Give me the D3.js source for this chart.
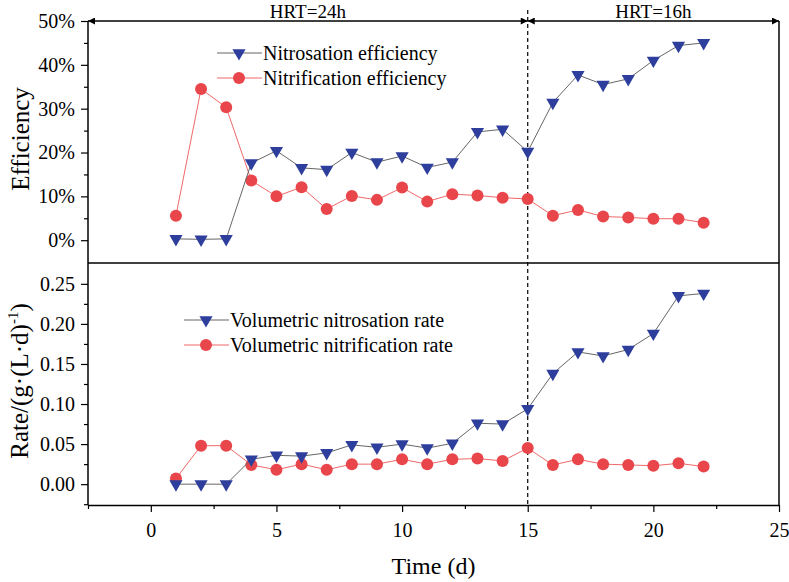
<!DOCTYPE html>
<html>
<head>
<meta charset="utf-8">
<script src="https://cdn.jsdelivr.net/npm/d3@7"></script>
<style>
  body { margin: 0; background: #fff; }
  svg text { font-family: "Liberation Serif", "Times New Roman", serif !important; fill: #000; }
</style>
</head>
<body>
<svg id="chart" width="789" height="582"></svg>
<script>
const days = [1,2,3,4,5,6,7,8,9,10,11,12,13,14,15,16,17,18,19,20,21,22];
const nitrosationEff = [0.3,0.2,0.3,17.6,20.4,16.5,16.1,20.0,17.8,19.2,16.6,17.8,24.7,25.3,20.2,31.4,37.7,35.5,36.8,41.0,44.4,45.0];
const nitrificationEff = [5.6,34.5,30.3,13.6,10.0,12.1,7.1,10.1,9.2,12.0,8.8,10.5,10.2,9.7,9.4,5.6,6.9,5.4,5.2,4.9,4.9,4.0];
const nitrosationRate = [0.0,0.0,0.0,0.031,0.036,0.035,0.039,0.049,0.046,0.050,0.045,0.051,0.076,0.075,0.094,0.138,0.165,0.160,0.168,0.188,0.235,0.238];
const nitrificationRate = [0.007,0.048,0.048,0.024,0.018,0.025,0.018,0.025,0.025,0.031,0.025,0.031,0.032,0.029,0.045,0.024,0.031,0.025,0.024,0.023,0.026,0.022];
const xTicks = [0,5,10,15,20,25];
const effTicks = [0,10,20,30,40,50];
const rateTicks = [0,0.05,0.10,0.15,0.20,0.25];

const svg = d3.select("#chart");
const pLeft = 88, pRight = 779, pTop = 21, pMid = 263, pBottom = 505;

const x = d3.scaleLinear().domain([-2.5, 25]).range([pLeft, pRight]);
const yTop = d3.scaleLinear().domain([-5.2, 50]).range([pMid, pTop]);
const yBot = d3.scaleLinear().domain([-0.026, 0.276]).range([pBottom, pMid]);

const blue = "#2d3e9c", red = "#e8464a";

// frame
svg.append("line").attr("x1", pLeft).attr("x2", pLeft).attr("y1", pTop).attr("y2", pBottom).attr("stroke", "#000").attr("stroke-width", 1.5);
svg.append("line").attr("x1", pRight).attr("x2", pRight).attr("y1", pTop).attr("y2", pBottom).attr("stroke", "#000").attr("stroke-width", 1.5);
svg.append("line").attr("x1", pLeft).attr("x2", pRight).attr("y1", pMid).attr("y2", pMid).attr("stroke", "#000").attr("stroke-width", 1.5);

// axes
function styleAxis(g) {
  g.attr("font-size", 20);
  g.selectAll(".domain").attr("stroke-width", 1.5);
  g.selectAll(".tick line").attr("stroke-width", 1.2);
  g.selectAll("text").attr("font-size", 20).style("font-size", "20px");
}
function minor(g) {
  g.select(".domain").remove();
  g.selectAll("line").attr("stroke-width", 1.2);
}
const xAxis = svg.append("g").attr("transform", `translate(0,${pBottom})`)
  .call(d3.axisBottom(x).tickValues(xTicks).tickSize(7).tickSizeOuter(0).tickPadding(11));
styleAxis(xAxis);
svg.append("g").attr("transform", `translate(0,${pBottom})`)
  .call(d3.axisBottom(x).tickValues(d3.range(-2.5, 25, 5)).tickSize(4).tickFormat("").tickSizeOuter(0))
  .call(minor);

const yAxisTop = svg.append("g").attr("transform", `translate(${pLeft},0)`)
  .call(d3.axisLeft(yTop).tickValues(effTicks).tickSize(7).tickSizeOuter(0).tickPadding(6).tickFormat(d => d + "%"));
styleAxis(yAxisTop);
yAxisTop.select(".domain").remove();
svg.append("g").attr("transform", `translate(${pLeft},0)`)
  .call(d3.axisLeft(yTop).tickValues(d3.range(5, 50, 10)).tickSize(4).tickFormat(""))
  .call(minor);

const yAxisBot = svg.append("g").attr("transform", `translate(${pLeft},0)`)
  .call(d3.axisLeft(yBot).tickValues(rateTicks).tickSize(7).tickSizeOuter(0).tickPadding(6).tickFormat(d3.format(".2f")));
styleAxis(yAxisBot);
yAxisBot.select(".domain").remove();
svg.append("g").attr("transform", `translate(${pLeft},0)`)
  .call(d3.axisLeft(yBot).tickValues([-0.025, 0.025, 0.075, 0.125, 0.175, 0.225]).tickSize(4).tickFormat(""))
  .call(minor);

// dashed divider at day 15
svg.append("line").attr("x1", x(15)).attr("x2", x(15)).attr("y1", 10).attr("y2", pBottom)
  .attr("stroke", "#000").attr("stroke-dasharray", "4,3").attr("stroke-width", 1.2);

// HRT arrows
const defs = svg.append("defs");
defs.append("marker").attr("id", "arr").attr("viewBox", "0 0 10 10").attr("refX", 10).attr("refY", 5)
  .attr("markerWidth", 12).attr("markerHeight", 7).attr("markerUnits", "userSpaceOnUse").attr("orient", "auto-start-reverse")
  .append("path").attr("d", "M0,0L10,5L0,10Z").attr("fill", "#000");
[[pLeft, x(15)], [x(15), pRight]].forEach(([a, b]) => {
  svg.append("line").attr("x1", a).attr("x2", b).attr("y1", pTop).attr("y2", pTop)
    .attr("stroke", "#000").attr("stroke-width", 1.5)
    .attr("marker-start", "url(#arr)").attr("marker-end", "url(#arr)");
});
svg.append("text").attr("x", (pLeft + x(15)) / 2).attr("y", 18).attr("text-anchor", "middle").style("font-size", "19px").text("HRT=24h");
svg.append("text").attr("x", (x(15) + pRight) / 2).attr("y", 18).attr("text-anchor", "middle").style("font-size", "19px").text("HRT=16h");

// series
const tri = d3.symbol().type(d3.symbolTriangle).size(75);
function drawSeries(vals, y, lineColor, markColor, shape) {
  const pts = days.map((d, i) => [x(d), y(vals[i])]);
  svg.append("path").attr("d", d3.line()(pts)).attr("fill", "none").attr("stroke", lineColor).attr("stroke-width", 1);
  pts.forEach(p => {
    if (shape === "tri") {
      svg.append("path").attr("d", tri()).attr("fill", markColor)
        .attr("transform", `translate(${p[0]},${p[1]}) rotate(180)`);
    } else {
      svg.append("circle").attr("cx", p[0]).attr("cy", p[1]).attr("r", 6).attr("fill", markColor);
    }
  });
}
drawSeries(nitrificationEff, yTop, "#f06868", red, "circle");
drawSeries(nitrosationEff, yTop, "#666", blue, "tri");
drawSeries(nitrificationRate, yBot, "#f06868", red, "circle");
drawSeries(nitrosationRate, yBot, "#666", blue, "tri");

// legends
function legend(lx, ly, items) {
  items.forEach((it, i) => {
    const yy = ly + i * 25;
    svg.append("line").attr("x1", lx).attr("x2", lx + 45).attr("y1", yy).attr("y2", yy).attr("stroke", it.line).attr("stroke-width", 1);
    if (it.shape === "tri") {
      svg.append("path").attr("d", tri()).attr("fill", it.color).attr("transform", `translate(${lx + 22},${yy}) rotate(180)`);
    } else {
      svg.append("circle").attr("cx", lx + 22).attr("cy", yy).attr("r", 6).attr("fill", it.color);
    }
    svg.append("text").attr("x", lx + 46).attr("y", yy + 7).style("font-size", "20px").text(it.label);
  });
}
legend(217, 53, [
  { label: "Nitrosation efficiency", shape: "tri", color: blue, line: "#666" },
  { label: "Nitrification efficiency", shape: "circle", color: red, line: "#f06868" }
]);
legend(184, 320, [
  { label: "Volumetric nitrosation rate", shape: "tri", color: blue, line: "#666" },
  { label: "Volumetric nitrification rate", shape: "circle", color: red, line: "#f06868" }
]);

// axis titles
svg.append("text").attr("transform", `translate(29,139) rotate(-90)`)
  .attr("text-anchor", "middle").style("font-size", "25px").text("Efficiency");
const rt = svg.append("text").attr("transform", `translate(28,381) rotate(-90)`)
  .attr("text-anchor", "middle").style("font-size", "25px");
rt.append("tspan").text("Rate/(g·(L·d)");
rt.append("tspan").attr("dy", -10).style("font-size", "15px").text("-1");
rt.append("tspan").attr("dy", 10).text(")");
svg.append("text").attr("x", x(11.25)).attr("y", 574).attr("text-anchor", "middle").style("font-size", "24px").text("Time (d)");
</script>
</body>
</html>
